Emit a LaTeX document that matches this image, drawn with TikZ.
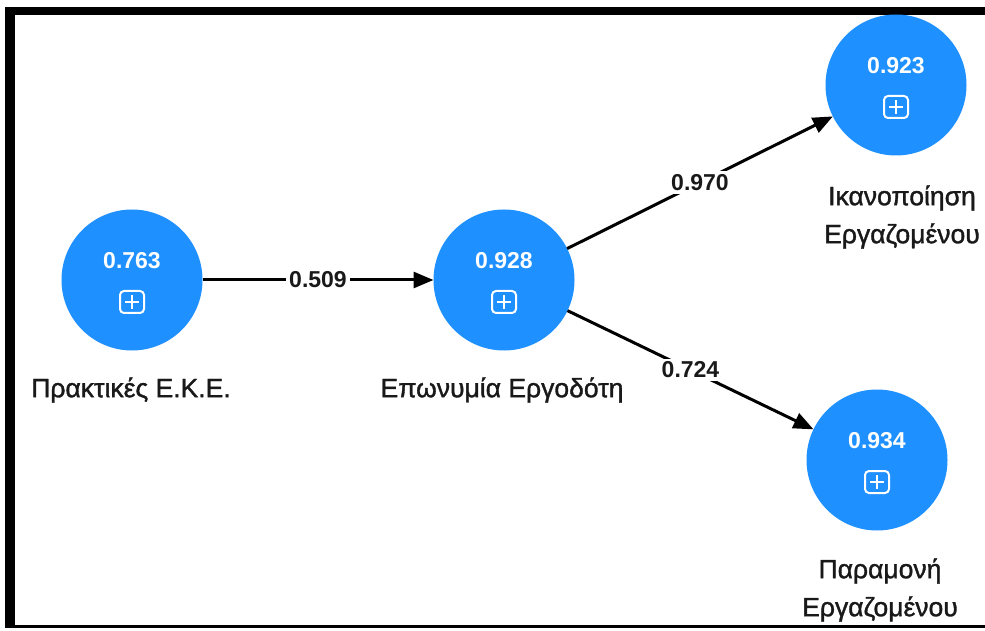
\documentclass[tikz,border=0pt]{standalone}
\usepackage{fontspec}
\setmainfont{Liberation Sans}
\usetikzlibrary{arrows.meta}
\definecolor{nodeblue}{RGB}{30,144,255}
\definecolor{txt}{RGB}{25,25,25}
\begin{document}
\begin{tikzpicture}[x=1pt,y=1pt,
  construct/.style={circle,fill=nodeblue,draw=none,minimum size=141pt,inner sep=0pt,outer sep=0pt},
  valtext/.style={text=white,font=\fontsize{23}{25}\selectfont\bfseries,inner sep=0pt},
  plusicon/.style={draw=white,line width=2pt,rounded corners=4pt,minimum width=24pt,minimum height=22pt,inner sep=0pt,
    path picture={\draw[white,line width=2pt]
      ([xshift=-7pt]path picture bounding box.center) -- ([xshift=7pt]path picture bounding box.center)
      ([yshift=-7pt]path picture bounding box.center) -- ([yshift=7pt]path picture bounding box.center);}},
  nlabel/.style={text=txt,font=\fontsize{26.5}{38}\selectfont\addfontfeature{FakeBold=1.3},align=center,inner sep=0pt},
  edge/.style={draw=black,line width=3pt,-{Triangle[length=20pt,width=16pt]}},
  elabel/.style={fill=white,text=txt,font=\fontsize{23}{25}\selectfont\bfseries,inner sep=3pt}]
\useasboundingbox (0,0) rectangle (985,630);
\fill[white] (0,0) rectangle (985,630);
% frame
\fill[black] (5,615) rectangle (985,623);
\fill[black] (5,2) rectangle (15,623);
\fill[black] (5,2) rectangle (985,5);
% constructs
\node[construct] (c1) at (132,350) {};
\node[construct] (c2) at (504,350) {};
\node[construct] (c3) at (896,545) {};
\node[construct] (c4) at (877,170) {};
\foreach \n/\v in {c1/0.763,c2/0.928,c3/0.923,c4/0.934}{
  \node[valtext] (\n v) at ([yshift=19pt]\n.center) {\v};
  \node[plusicon] (\n i) at ([yshift=-22pt]\n.center) {};
}
% labels
\node[nlabel] (l1) at (131,240) {Πρακτικές Ε.Κ.Ε.};
\node[nlabel] (l2) at (502,240) {Επωνυμία Εργοδότη};
\node[nlabel] (l3) at (902,413) {Ικανοποίηση\\Εργαζομένου};
\node[nlabel] (l4) at (880,40) {Παραμονή\\Εργαζομένου};
% paths
\draw[edge] (c1) -- node[elabel] (e1) {0.509} (c2);
\draw[edge] (c2) -- node[elabel] (e2) {0.970} (c3);
\draw[edge] (c2) -- node[elabel] (e3) {0.724} (c4);
\end{tikzpicture}
\end{document}
